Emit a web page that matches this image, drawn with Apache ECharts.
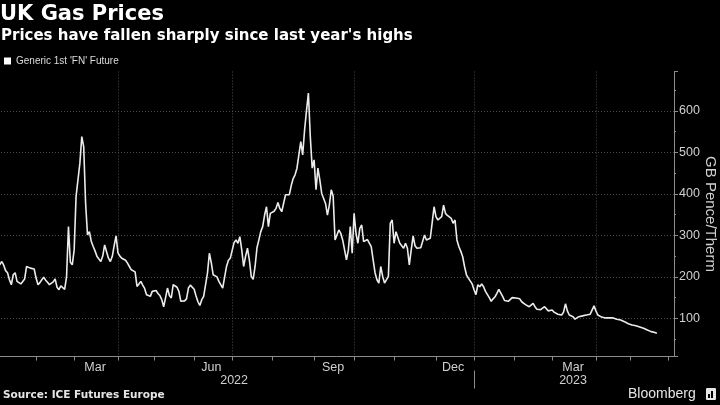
<!DOCTYPE html>
<html><head><meta charset="utf-8">
<script src="https://cdn.jsdelivr.net/npm/echarts@6/dist/echarts.min.js"></script>
<style>html,body{margin:0;padding:0;background:#000;}#c{width:720px;height:405px;}</style>
</head><body><div id="c"></div>
<script>
// ---- data ----
const titleText = 'UK Gas Prices';
const subtitleText = "Prices have fallen sharply since last year's highs";
const seriesName = "Generic 1st 'FN' Future";
const yAxisName = 'GB Pence/Therm';
const sourceText = 'Source: ICE Futures Europe';
// trading calendar (weekdays minus UK holidays)
const firstDay = '2022-01-04';
const lastAxisDay = '2023-06-06';
const holidays = ['2022-01-03','2022-04-15','2022-04-18','2022-05-02','2022-06-02','2022-06-03',
  '2022-08-29','2022-09-19','2022-12-26','2022-12-27','2023-01-02','2023-04-07','2023-04-10',
  '2023-05-01','2023-05-08','2023-05-29'];
const monthLabels = {2: 'Mar', 5: 'Jun', 8: 'Sep', 11: 'Dec'};
const gridMonths = [0, 3, 6, 9];
// daily settlement prices (GBp/therm), one per trading day from firstDay
const prices = [
 225,230,237,228,215,210,193,181,205,210,189,188,183,182,195,225,222,221,220,219,
 197,181,186,193,199,192,187,181,183,188,195,175,169,178,174,170,200,321,235,229,
 265,394,390,474,538,514,378,301,309,285,273,262,249,250,237,250,277,275,245,237,
 249,275,299,258,250,245,244,240,233,225,217,213,212,177,178,189,180,172,157,155,
 153,165,162,167,160,155,145,128,150,173,155,149,181,185,175,165,141,140,142,147,
 173,180,183,170,154,140,131,145,153,155,209,257,234,205,207,200,189,186,173,175,
 225,240,245,241,283,289,281,297,265,225,249,269,241,201,194,225,270,289,309,321,
 349,369,321,353,353,358,365,379,365,357,358,398,400,398,420,437,446,462,465,526,
 494,554,600,643,538,462,482,410,462,434,401,405,377,349,373,410,395,289,285,313,
 305,289,287,241,265,321,257,353,305,281,317,325,285,285,290,293,273,241,210,193,
 185,225,201,185,187,201,329,337,281,309,310,281,283,269,281,269,229,265,299,275,
 269,269,270,272,301,289,289,293,330,369,345,337,340,345,373,353,348,344,341,329,
 337,289,273,262,249,225,205,197,196,183,169,157,181,176,183,176,165,166,150,141,
 147,152,160,170,169,153,143,142,141,145,150,153,149,148,147,140,136,133,134,128,
 132,136,128,122,123,121,120,128,124,118,116,120,115,112,110,108,108,115,135,118,
 108,106,104,98,96,104,102,106,108,108,109,110,112,130,118,108,104,103,102,101,
 101,101,102,101,98,98,97,96,94,92,90,87,84,84,83,82,80,79,78,76,
 73,72,70,68,67,66,64
];

// ---- calendar ----
const days = [];
{
  const d = new Date(firstDay + 'T00:00:00Z');
  const end = new Date(lastAxisDay + 'T00:00:00Z');
  while (d <= end) {
    const dow = d.getUTCDay();
    const s = d.toISOString().slice(0, 10);
    if (dow !== 0 && dow !== 6 && holidays.indexOf(s) < 0) days.push(s);
    d.setUTCDate(d.getUTCDate() + 1);
  }
}
const ym = s => s.slice(0, 7);
const monthStart = new Set(), quarterStart = new Set(), monthLabelIdx = {}, yearLabelIdx = {}, yearStart = new Set();
const monthRanges = {}, yearRanges = {};
days.forEach((s, i) => {
  const k = ym(s), y = s.slice(0, 4);
  if (!monthRanges[k]) monthRanges[k] = [i, i]; else monthRanges[k][1] = i;
  if (!yearRanges[y]) yearRanges[y] = [i, i]; else yearRanges[y][1] = i;
  if (i > 0 && ym(days[i - 1]) !== k) {
    monthStart.add(i);
    if (gridMonths.indexOf(+s.slice(5, 7) - 1) >= 0) quarterStart.add(i);
    if (days[i - 1].slice(0, 4) !== y) yearStart.add(i);
  }
});
Object.keys(monthRanges).forEach(k => {
  const m = +k.slice(5, 7) - 1, r = monthRanges[k];
  // only label months shown in full on the axis
  if (monthLabels[m] && r[1] - r[0] >= 15) monthLabelIdx[Math.floor((r[0] + r[1]) / 2)] = monthLabels[m];
});
Object.keys(yearRanges).forEach(y => { const r = yearRanges[y]; yearLabelIdx[Math.floor((r[0] + r[1]) / 2)] = y; });

const axisGray = '#8c8c8c', labelGray = '#d0d0d0', gridGray = '#4a4a4a';
const chart = echarts.init(document.getElementById('c'), null, {renderer: 'canvas'});
chart.setOption({
  backgroundColor: '#000',
  animation: false,
  title: [
    {text: titleText, left: 0, top: 4, padding: 0, textStyle: {color: '#fff', fontSize: 21, fontWeight: 'bold', fontFamily: 'DejaVu Sans'}},
    {text: subtitleText, left: 1, top: 29, padding: 0, textStyle: {color: '#fff', fontSize: 15, fontWeight: 'bold', fontFamily: 'DejaVu Sans'}},
    {text: sourceText, left: 3, top: 390, padding: 0, textStyle: {color: '#e6e6e6', fontSize: 10.5, fontWeight: 'bold', fontFamily: 'DejaVu Sans'}},
    {text: 'Bloomberg', left: 628, top: 387, padding: 0, textStyle: {color: '#e6e6e6', fontSize: 14, fontWeight: 'normal', fontFamily: 'Liberation Sans'}}
  ],
  graphic: [
    {type: 'rect', shape: {x: 706, y: 388, width: 10, height: 12, r: 1}, style: {fill: '#e6e6e6'}},
    {type: 'rect', shape: {x: 708, y: 394, width: 2, height: 4}, style: {fill: '#000'}},
    {type: 'rect', shape: {x: 711, y: 391, width: 2, height: 7}, style: {fill: '#000'}}
  ],
  legend: {
    data: [seriesName], left: 4, top: 56, padding: 0, icon: 'rect', itemWidth: 7, itemHeight: 7,
    textStyle: {color: '#dcdcdc', fontSize: 10, fontFamily: 'Liberation Sans'}
  },
  grid: {left: -2, right: 46, top: 71.5, bottom: 48.5, containLabel: false, outerBoundsMode: 'none'},
  xAxis: [{
    type: 'category', data: days, boundaryGap: false,
    axisLine: {show: true, lineStyle: {color: axisGray, width: 1}},
    axisTick: {show: true, length: 4, interval: (i) => monthStart.has(i), lineStyle: {color: axisGray}},
    axisLabel: {show: true, interval: (i) => monthLabelIdx[i] !== undefined, formatter: (v, i) => monthLabelIdx[i] || '',
      color: labelGray, fontSize: 12.5, margin: 5, fontFamily: 'Liberation Sans'},
    splitLine: {show: true, interval: (i) => quarterStart.has(i), lineStyle: {color: gridGray, type: [1, 2]}}
  }, {
    type: 'category', data: days, boundaryGap: false, position: 'bottom', offset: 14,
    axisLine: {show: false},
    axisTick: {show: true, length: 18, interval: (i) => yearStart.has(i), lineStyle: {color: axisGray}},
    axisLabel: {show: true, interval: (i) => yearLabelIdx[i] !== undefined, formatter: (v, i) => yearLabelIdx[i] || '',
      color: labelGray, fontSize: 12.5, margin: 4, fontFamily: 'Liberation Sans'},
    splitLine: {show: false}
  }],
  yAxis: {
    type: 'value', position: 'right', min: 8, max: 695, minInterval: 100, maxInterval: 100,
    name: yAxisName, nameLocation: 'middle', nameRotate: -90, nameGap: 29, nameMoveOverlap: false,
    nameTextStyle: {color: labelGray, fontSize: 15, fontFamily: 'Liberation Sans'},
    axisLine: {show: true, lineStyle: {color: axisGray}},
    axisTick: {show: true, length: 4, lineStyle: {color: axisGray}},
    minorTick: {show: true, splitNumber: 2, length: 2, lineStyle: {color: axisGray}},
    axisLabel: {color: labelGray, fontSize: 12.5, margin: 5, showMinLabel: false, showMaxLabel: false, fontFamily: 'Liberation Sans'},
    splitLine: {show: true, showMinLine: false, showMaxLine: false, lineStyle: {color: gridGray, type: [1, 2]}}
  },
  series: [{
    name: seriesName, type: 'line', xAxisIndex: 0, data: prices, showSymbol: false, symbol: 'none',
    lineStyle: {color: '#ececec', width: 1.6}, itemStyle: {color: '#fff'}
  }]
});
</script></body></html>
